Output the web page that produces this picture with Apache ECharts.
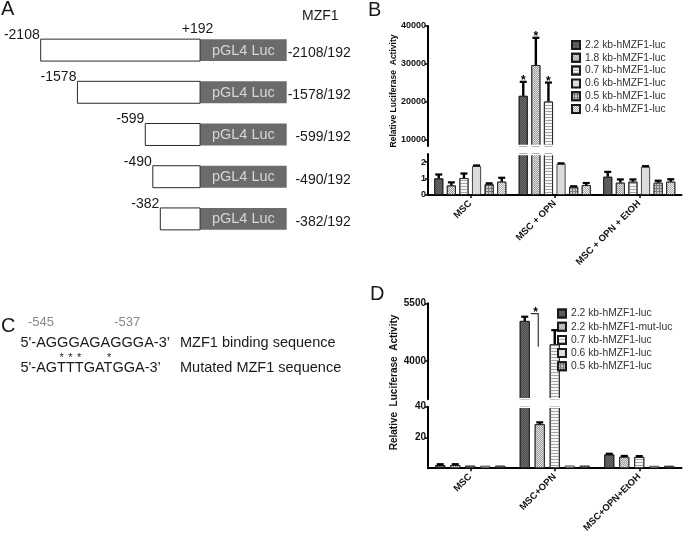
<!DOCTYPE html>
<html>
<head>
<meta charset="utf-8">
<script src="https://cdn.jsdelivr.net/npm/echarts@6.0.0/dist/echarts.min.js"></script>
<style>
html,body{margin:0;padding:0;background:#fff;}
#chart{width:683px;height:535px;}
</style>
</head>
<body>
<div id="chart"></div>
<script>
// ===== Panel A: promoter deletion constructs =====
const constructStarts = [-2108, -1578, -599, -490, -382];
const constructEnd = 192;
const constructNames = ['-2108/192', '-1578/192', '-599/192', '-490/192', '-382/192'];
const reporterName = 'pGL4 Luc';
const reporterLength = 1250;   // schematic length of the reporter box (bp units)

// ===== Panel B: promoter activity =====
const bCategories = ['MSC', 'MSC + OPN', 'MSC + OPN + EtOH'];
const bNames = ['2.2 kb-hMZF1-luc', '1.8 kb-hMZF1-luc', '0.7 kb-hMZF1-luc', '0.6 kb-hMZF1-luc', '0.5 kb-hMZF1-luc', '0.4 kb-hMZF1-luc'];
const b22 = [1.01, 21600, 1.11];
const b18 = [0.58, 29700, 0.75];
const b07 = [1.03, 20100, 0.81];
const b06 = [1.77, 1.90, 1.72];
const b05 = [0.65, 0.50, 0.75];
const b04 = [0.81, 0.60, 0.81];
const b22Err = [0.24, 3700, 0.30];
const b18Err = [0.19, 7200, 0.20];
const b07Err = [0.28, 5000, 0.14];
const b06Err = [0.03, 0.03, 0.04];
const b05Err = [0.06, 0.03, 0.12];
const b04Err = [0.24, 0.13, 0.15];
const b22Star = [0, 1, 0];
const b18Star = [0, 1, 0];
const b07Star = [0, 1, 0];
const bTopRange = [8400, 40000];
const bBottomRange = [0, 2.5];
const bTopTicks = [10000, 20000, 30000, 40000];
const bBottomTicks = [0, 1, 2];

// ===== Panel C: binding sequence =====
const seqPrefix = "5'-";
const seqSuffix = "-3\u2019";
const coreWT = 'AGGGAGAGGGA';
const coreMut = 'AGTTTGATGGA';
const coreStartPos = -545;
const markedPositions = [-545, -537];
const seqLabels = ['MZF1 binding sequence', 'Mutated MZF1 sequence'];

// ===== Panel D: mutant promoter activity =====
const dCategories = ['MSC', 'MSC+OPN', 'MSC+OPN+EtOH'];
const dNames = ['2.2 kb-hMZF1-luc', '2.2 kb-hMZF1-mut-luc', '0.7 kb-hMZF1-luc', '0.6 kb-hMZF1-luc', '0.5 kb-hMZF1-luc'];
const d22 = [2.0, 5040, 8.9];
const d22mut = [2.0, 28.6, 7.4];
const d07 = [1.6, 4430, 7.3];
const d06 = [1.6, 1.7, 1.5];
const d05 = [1.6, 1.6, 1.5];
const d22Err = [0.6, 110, 0.5];
const d22mutErr = [0.6, 1.2, 0.6];
const d07Err = [0, 370, 0.6];
const d06Err = [0, 0, 0];
const d05Err = [0, 0, 0];
const dTopRange = [3000, 5500];
const dBottomRange = [0, 40];
const dTopTicks = [4000, 5500];
const dBottomTicks = [20, 40];
const dBracketCategory = 1;
const dBracketValues = [5230, 4370];

// ---------------------------------------------------------------
const FONT = "'Liberation Sans', Arial, Helvetica, sans-serif";

function patternFor(name) {
  const p = {
    '2.2 kb-hMZF1-luc': { color: '#6a6a6a', decal: { symbol: 'rect', symbolSize: 1, color: 'rgba(25,25,25,0.35)', dashArrayX: [[1, 1], [0, 1, 1, 0]], dashArrayY: [1, 0] } },
    '2.2 kb-hMZF1-mut-luc': { color: '#e4e4e4', decal: { symbol: 'rect', symbolSize: 1, color: '#9a9a9a', dashArrayX: [[1, 1], [0, 1, 1, 0]], dashArrayY: [1, 0] } },
    '1.8 kb-hMZF1-luc': { color: '#e4e4e4', decal: { symbol: 'rect', symbolSize: 1, color: '#9a9a9a', dashArrayX: [[1, 1], [0, 1, 1, 0]], dashArrayY: [1, 0] } },
    '0.7 kb-hMZF1-luc': { color: '#f6f6f6', decal: { symbol: 'rect', symbolSize: 1, color: '#a5a5a5', dashArrayX: [1, 0], dashArrayY: [1, 2] } },
    '0.6 kb-hMZF1-luc': { color: '#dcdcdc', decal: null },
    '0.5 kb-hMZF1-luc': { color: '#7c7c7c', decal: { symbol: 'rect', symbolSize: 1, color: '#c6c6c6', dashArrayX: [2, 1], dashArrayY: [2, 1] } },
    '0.4 kb-hMZF1-luc': { color: '#f0f0f0', decal: { symbol: 'rect', symbolSize: 1, color: '#ababab', dashArrayX: [[1, 1], [0, 1, 1, 0]], dashArrayY: [1, 0] } }
  }[name];
  const st = { color: p.color, borderColor: '#1a1a1a', borderWidth: 0.8 };
  if (p.decal) st.decal = JSON.parse(JSON.stringify(p.decal));
  return st;
}

function txt(text, x, y, font, align, valign, fill, extra) {
  return Object.assign({
    type: 'text', x: x, y: y, silent: true,
    style: { text: text, font: font, fill: fill || '#1a1a1a', textAlign: align, align: align, textVerticalAlign: valign, verticalAlign: valign }
  }, extra || {});
}

function barSeries(names, values, xi, yi, range, isTop, barW, gap) {
  return names.map((nm, k) => ({
    type: 'bar', name: nm, xAxisIndex: xi, yAxisIndex: yi,
    barWidth: barW, barGap: (gap * 100) + '%',
    data: values[k].map(v => isTop ? (v > range[0] ? v : '-') : v),
    itemStyle: patternFor(nm), clip: true, silent: true, z: 2
  }));
}

function errSeries(values, errs, stars, xi, yi, range, isTop, barW, gap) {
  const n = values.length;
  return values.map((vals, k) => {
    const data = [];
    vals.forEach((m, c) => {
      const keep = isTop ? m > range[0] : m <= range[1];
      if (keep) data.push([c, m, m + errs[k][c], stars && stars[k] ? stars[k][c] : 0]);
    });
    return {
      type: 'custom', xAxisIndex: xi, yAxisIndex: yi, z: 5, silent: true,
      encode: { x: 0, y: 1 }, data: data,
      renderItem: function (params, api) {
        const c = api.value(0), m = api.value(1), t = api.value(2), s = api.value(3);
        const off = (k - (n - 1) / 2) * barW * (1 + gap);
        const p0 = api.coord([c, m]), p1 = api.coord([c, t]);
        const x = p0[0] + off;
        const ch = [];
        if (t > m) {
          ch.push({ type: 'line', shape: { x1: x, y1: p0[1], x2: x, y2: p1[1] }, style: { stroke: '#000', lineWidth: 2.4 } });
          ch.push({ type: 'line', shape: { x1: x - 3.5, y1: p1[1], x2: x + 3.5, y2: p1[1] }, style: { stroke: '#000', lineWidth: 2.2 } });
        }
        if (s) ch.push(txt('*', x, p1[1] + 5, 'bold 12px ' + FONT, 'center', 'bottom', '#000'));
        return { type: 'group', children: ch };
      }
    };
  });
}

// white mask along the cut edge of a broken axis segment (hides the clipped bar outline)
function breakMask(xi, yi, atTop) {
  return {
    type: 'custom', xAxisIndex: xi, yAxisIndex: yi, z: 4, silent: true,
    encode: { x: 0, y: 1 }, data: [[0, 0]],
    renderItem: function (params) {
      const cs = params.coordSys;
      const y = atTop ? cs.y + 0.4 : cs.y + cs.height - 0.4;
      return { type: 'line', shape: { x1: cs.x + 2, y1: y, x2: cs.x + cs.width, y2: y }, style: { stroke: '#fff', lineWidth: 1.6 } };
    }
  };
}

// ---- Panel C text layout (measured from the rendered font) ----
const measureCtx = document.createElement('canvas').getContext('2d');
const seqFont = '14.5px ' + FONT;
measureCtx.font = seqFont;
function charCenter(str, i) {
  return measureCtx.measureText(str.slice(0, i)).width + measureCtx.measureText(str[i]).width / 2;
}
const seqX = 20.5, seqY1 = 343, seqY2 = 368, labelX = 180;
const wtLine = seqPrefix + coreWT + seqSuffix;
const mutLine = seqPrefix + coreMut + seqSuffix;
const cGraphics = [
  txt('C', 1, 326, '20px ' + FONT, 'left', 'middle'),
  txt(wtLine, seqX, seqY1, seqFont, 'left', 'middle'),
  txt(mutLine, seqX, seqY2, seqFont, 'left', 'middle'),
  txt(seqLabels[0], labelX, seqY1, seqFont, 'left', 'middle'),
  txt(seqLabels[1], labelX, seqY2, seqFont, 'left', 'middle')
];
markedPositions.forEach(pos => {
  const idx = seqPrefix.length + (pos - coreStartPos);
  cGraphics.push(txt(String(pos), seqX + charCenter(wtLine, idx), seqY1 - 21, '13px ' + FONT, 'center', 'middle', '#8a8a8a'));
});
for (let i = 0; i < coreMut.length; i++) {
  if (coreMut[i] !== coreWT[i]) {
    const idx = seqPrefix.length + i;
    cGraphics.push(txt('*', seqX + charCenter(mutLine, idx), seqY2 - 10, '11px ' + FONT, 'center', 'middle', '#222'));
  }
}

// ---- assemble ----
const bValues = [b22, b18, b07, b06, b05, b04];
const bErrs = [b22Err, b18Err, b07Err, b06Err, b05Err, b04Err];
const bStars = [b22Star, b18Star, b07Star, null, null, null];
const dValues = [d22, d22mut, d07, d06, d05];
const dErrs = [d22Err, d22mutErr, d07Err, d06Err, d05Err];

const BW = 9, BG = 0.4;     // panel B bar width / gap ratio
const DW = 10, DG = 0.5;    // panel D bar width / gap ratio

function hiddenCat(data, gi) {
  return { type: 'category', gridIndex: gi, data: data, show: false, boundaryGap: true };
}
function shownCat(data, gi, fs) {
  return {
    type: 'category', gridIndex: gi, data: data, boundaryGap: true,
    axisLine: { show: true, onZero: false, lineStyle: { color: '#000', width: 2 } },
    axisTick: { show: true, alignWithLabel: true, length: 3, lineStyle: { color: '#000', width: 1.5 } },
    axisLabel: { rotate: 45, interval: 0, margin: 7, fontFamily: FONT, fontWeight: 'bold', fontSize: fs, color: '#111' },
    splitLine: { show: false }
  };
}
function valAxis(gi, range, ticks, fs) {
  return {
    type: 'value', gridIndex: gi, min: range[0], max: range[1],
    axisLine: { show: true, lineStyle: { color: '#000', width: 2 } },
    axisTick: { show: true, length: 3, customValues: ticks, lineStyle: { color: '#000', width: 1.5 } },
    axisLabel: { customValues: ticks, margin: 2, fontFamily: FONT, fontWeight: 'bold', fontSize: fs, color: '#111', formatter: v => String(v) },
    splitLine: { show: false }
  };
}

const seriesA = {
  type: 'custom', xAxisIndex: 0, yAxisIndex: 0, silent: true,
  encode: { x: 0, y: 1 },
  data: constructStarts.map((s, i) => [s, i]),
  renderItem: function (params, api) {
    const s = api.value(0), row = api.value(1);
    const pL = api.coord([s, row]);
    const pE = api.coord([constructEnd, row]);
    const pR = api.coord([constructEnd + reporterLength, row]);
    const h = api.size([0, 1])[1] * 0.52;
    const y = pL[1] - h / 2;
    const f = '14px ' + FONT;
    const ch = [
      { type: 'rect', shape: { x: pE[0], y: y, width: pR[0] - pE[0], height: h }, style: { fill: '#6b6b6b' } },
      { type: 'rect', shape: { x: pL[0], y: y, width: pE[0] - pL[0], height: h }, style: { fill: '#fff', stroke: '#2a2a2a', lineWidth: 1 } },
      txt(reporterName, (pE[0] + pR[0]) / 2, pL[1] + 0.5, '14.5px ' + FONT, 'center', 'middle', '#d6d6d6'),
      txt(String(s), pL[0] - 1, y + 3, f, 'right', 'bottom'),
      txt(constructNames[row], pR[0] + 64, pL[1] + 3, f, 'right', 'middle')
    ];
    if (row === 0) ch.push(txt('+' + constructEnd, pE[0] - 2.5, y - 3, f, 'center', 'bottom'));
    return { type: 'group', children: ch };
  }
};

const bracketD = {
  type: 'custom', xAxisIndex: 3, yAxisIndex: 3, z: 6, silent: true,
  encode: { x: 0, y: 1 },
  data: [[dBracketCategory, dBracketValues[0], dBracketValues[1]]],
  renderItem: function (params, api) {
    const n = dValues.length;
    const c = api.value(0);
    const pT = api.coord([c, api.value(1)]), pB = api.coord([c, api.value(2)]);
    const x0 = pT[0] + (0 - (n - 1) / 2) * DW * (1 + DG) + DW / 2 + 1;
    const x1 = pT[0] + (1 - (n - 1) / 2) * DW * (1 + DG) - 1.5;
    return {
      type: 'group', children: [
        { type: 'polyline', shape: { points: [[x0, pT[1]], [x1, pT[1]], [x1, pB[1]]] }, style: { stroke: '#333', lineWidth: 1.2, fill: null } },
        txt('*', (x0 + x1) / 2 + 1, pT[1] + 5, 'bold 12px ' + FONT, 'center', 'bottom', '#000')
      ]
    };
  }
};

const option = {
  animation: false,
  backgroundColor: '#fff',
  grid: [
    { left: 40.7, top: 29, width: 246, height: 211 },
    { left: 428, top: 26, width: 253.5, height: 120 },
    { left: 428, top: 154, width: 253.5, height: 41 },
    { left: 428, top: 303.3, width: 253.5, height: 96 },
    { left: 428, top: 406.7, width: 253.5, height: 64.3 }
  ],
  xAxis: [
    { type: 'value', gridIndex: 0, min: constructStarts[0], max: constructEnd + reporterLength, show: false },
    hiddenCat(bCategories, 1),
    shownCat(bCategories, 2, 9.5),
    hiddenCat(dCategories, 3),
    shownCat(dCategories, 4, 9.5)
  ],
  yAxis: [
    { type: 'category', gridIndex: 0, data: constructNames, inverse: true, show: false },
    valAxis(1, bTopRange, bTopTicks, 9),
    valAxis(2, bBottomRange, bBottomTicks, 9),
    valAxis(3, dTopRange, dTopTicks, 10),
    valAxis(4, dBottomRange, dBottomTicks, 10)
  ],
  legend: [
    {
      data: bNames, orient: 'vertical', left: 571, top: 39, itemWidth: 8, itemHeight: 8, itemGap: 0.8,
      icon: 'rect', selectedMode: false, padding: 0,
      textStyle: { fontFamily: FONT, fontSize: 10.3, color: '#333', lineHeight: 12 }
    },
    {
      data: dNames, orient: 'vertical', left: 557, top: 307.5, itemWidth: 8, itemHeight: 8, itemGap: 1.2,
      icon: 'rect', selectedMode: false, padding: 0,
      textStyle: { fontFamily: FONT, fontSize: 10.3, color: '#333', lineHeight: 12 }
    }
  ],
  graphic: [
    txt('A', 1, 9, '20px ' + FONT, 'left', 'middle'),
    txt('B', 368, 10, '20px ' + FONT, 'left', 'middle'),
    txt('D', 370, 294, '20px ' + FONT, 'left', 'middle'),
    txt('MZF1', 302, 16, '14px ' + FONT, 'left', 'middle'),
    txt('Relative Luciferase  Activity', 394, 91, 'bold 8.5px ' + FONT, 'center', 'middle', '#111', { rotation: Math.PI / 2 }),
    txt('Relative  Luciferase  Activity', 394, 382.5, 'bold 10px ' + FONT, 'center', 'middle', '#111', { rotation: Math.PI / 2 })
  ].concat(cGraphics),
  series: [].concat(
    [seriesA],
    barSeries(bNames, bValues, 1, 1, bTopRange, true, BW, BG),
    barSeries(bNames, bValues, 2, 2, bBottomRange, false, BW, BG),
    [breakMask(1, 1, false), breakMask(2, 2, true)],
    errSeries(bValues, bErrs, bStars, 1, 1, bTopRange, true, BW, BG),
    errSeries(bValues, bErrs, bStars, 2, 2, bBottomRange, false, BW, BG),
    barSeries(dNames, dValues, 3, 3, dTopRange, true, DW, DG),
    barSeries(dNames, dValues, 4, 4, dBottomRange, false, DW, DG),
    [breakMask(3, 3, false), breakMask(4, 4, true)],
    errSeries(dValues, dErrs, null, 3, 3, dTopRange, true, DW, DG),
    errSeries(dValues, dErrs, null, 4, 4, dBottomRange, false, DW, DG),
    [bracketD]
  )
};

const chart = echarts.init(document.getElementById('chart'), null, { renderer: 'canvas', width: 683, height: 535 });
chart.setOption(option);
</script>
</body>
</html>
